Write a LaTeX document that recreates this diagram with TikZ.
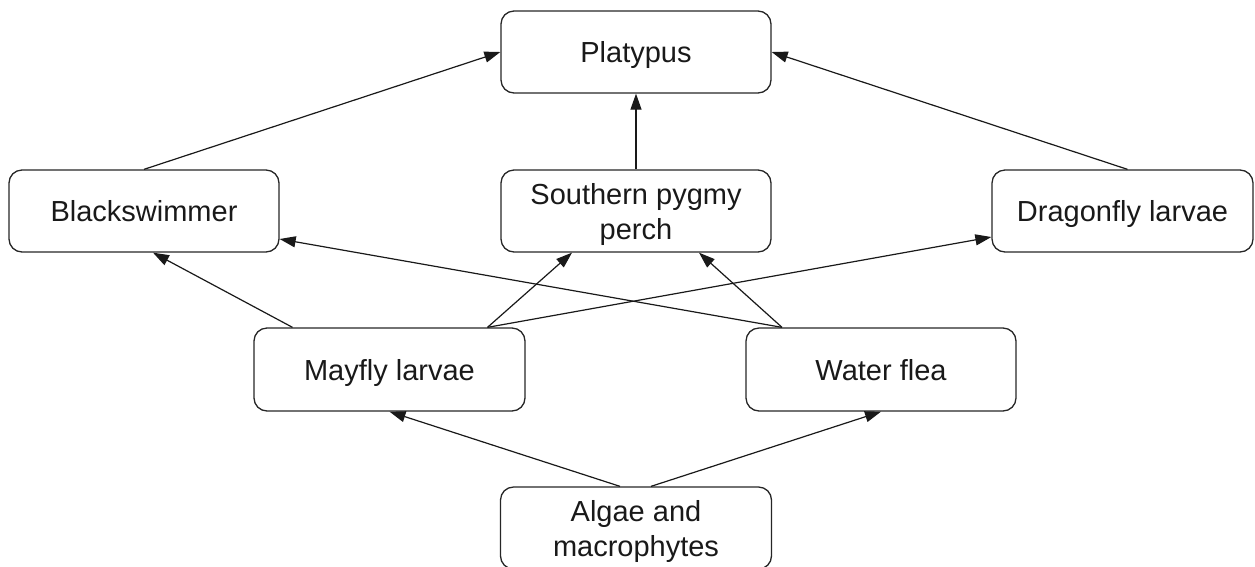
\documentclass[tikz,border=0pt]{standalone}
\usepackage{fontspec}
\setmainfont{Liberation Sans}
\usetikzlibrary{arrows.meta}
\begin{document}
\begin{tikzpicture}[x=1pt,y=-1pt,
  box/.style={draw=black!85,line width=1.3pt,rounded corners=13pt,
    minimum height=82pt,inner sep=0pt,align=center,text=black!90,
    text height=21pt,text depth=0pt,
    font=\fontsize{29}{35}\selectfont},
  twoline/.style={text height=56pt,text depth=0pt},
  link/.style={draw=black!90,line width=1.2pt,-{Triangle[length=16pt,width=11pt]}}]
\useasboundingbox (0,0) rectangle (1255,566);
\node[box,minimum width=270pt] (plat) at (636,52) {Platypus};
\node[box,minimum width=270pt] (black) at (144,211) {Blackswimmer};
\node[box,twoline,minimum width=270pt] (perch) at (636,211) {Southern pygmy\\perch};
\node[box,minimum width=261pt] (dragon) at (1122.5,211) {Dragonfly larvae};
\node[box,minimum width=271pt,minimum height=83pt] (mayfly) at (389.5,369.5) {Mayfly larvae};
\node[box,minimum width=270pt,minimum height=83pt] (flea) at (881,369.5) {Water flea};
\node[box,twoline,minimum width=271pt] (algae) at (636,528) {Algae and\\macrophytes};

\draw[link] (black.north) -- (plat.west);
\draw[link] (perch.north) -- (plat.south);
\draw[link] ([xshift=5pt]dragon.north) -- (plat.east);
\draw[link] ([xshift=-97pt]mayfly.north) -- ([xshift=9pt]black.south);
\draw[link] ([xshift=-99pt]flea.north) -- ([yshift=-28pt]black.east);
\draw[link] ([xshift=98pt]mayfly.north) -- ([xshift=-64pt]perch.south);
\draw[link] ([xshift=98pt]mayfly.north) -- ([yshift=-26pt]dragon.west);
\draw[link] ([xshift=-99pt]flea.north) -- ([xshift=63pt]perch.south);
\draw[link] ([xshift=-16pt]algae.north) -- (mayfly.south);
\draw[link] ([xshift=15pt]algae.north) -- (flea.south);
\end{tikzpicture}
\end{document}
